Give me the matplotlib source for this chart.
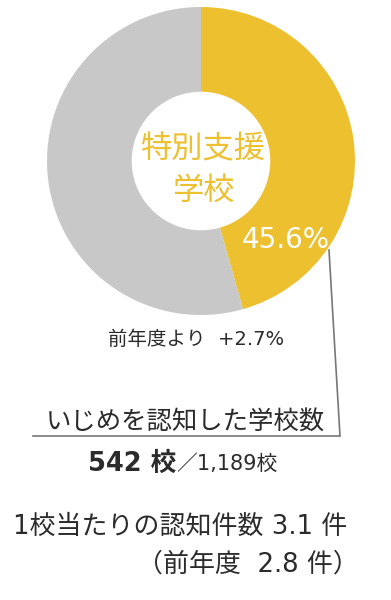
import matplotlib.pyplot as plt

plt.rcParams['font.family'] = ['DejaVu Sans', 'Noto Sans CJK JP']

# --- data ---
labels = ['特別支援学校', 'その他']
shares = [45.6, 54.4]
colors = ['#ECC02F', '#C8C8C8']
change_label = '前年度より  +2.7%'
schools_title = 'いじめを認知した学校数'
schools_known = 542
schools_total = '1,189'
per_school = 3.1
per_school_prev = 2.8

W, H = 391, 600
fig = plt.figure(figsize=(W / 100, H / 100), dpi=100)
ax = fig.add_axes([0, 0, 1, 1])

# donut
R = 154
cx, cy = 201, H - 161
ax.pie(shares, colors=colors, startangle=90, counterclock=False,
       center=(cx, cy), radius=R, wedgeprops=dict(width=R * 0.55, linewidth=0),
       frame=True)
ax.set_xlim(0, W)
ax.set_ylim(0, H)
ax.axis('off')

ax.text(cx + 2, H - 150, '特別支援', color=colors[0], fontsize=22.5, ha='center', va='center')
ax.text(cx + 2, H - 191, '学校', color=colors[0], fontsize=22.5, ha='center', va='center')
ax.text(286, H - 240, f'{shares[0]}%', color='white', fontsize=20, ha='center', va='center')

# leader line
ax.plot([329, 340, 340, 33], [H - 250, H - 436, H - 436, H - 436], color='#777777', lw=1.2,
        solid_joinstyle='miter')

dark = '#2B2B2B'
ax.text(196, H - 339, change_label, color=dark, fontsize=14, ha='center', va='center')
ax.text(185, H - 422, schools_title, color=dark, fontsize=18.3, ha='center', va='center')
ax.text(176, H - 464, f'{schools_known} 校', color=dark, fontsize=18.5, fontweight='bold',
        ha='right', va='center')
ax.text(176, H - 464, f'／{schools_total}校', color=dark, fontsize=15, ha='left', va='center')
ax.text(13, H - 527, f'1校当たりの認知件数 {per_school} 件', color=dark, fontsize=18.7,
        ha='left', va='center')
ax.text(359, H - 565, f'（前年度  {per_school_prev} 件）', color=dark, fontsize=18.7,
        ha='right', va='center')

fig.savefig('out.png', dpi=100)
